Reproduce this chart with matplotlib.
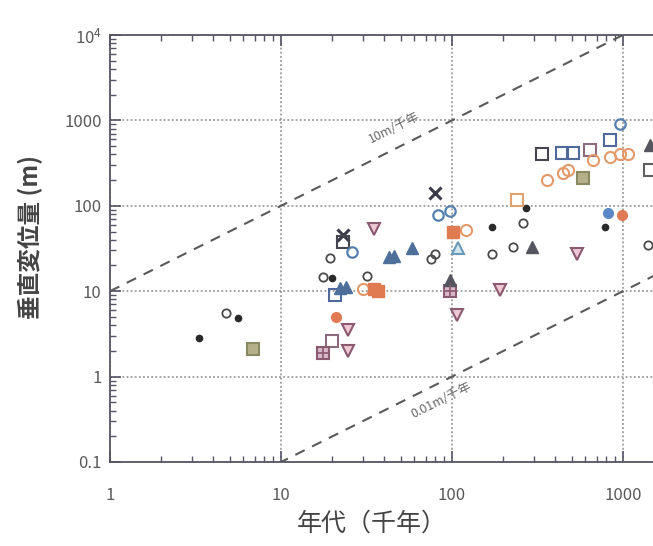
import matplotlib
matplotlib.use("Agg")
import matplotlib.pyplot as plt
import numpy as np

plt.rcParams['font.family'] = ['Noto Sans CJK JP', 'DejaVu Sans']

# x: 年代 (千年), y: 垂直変位量 (m)
black_dot_x = [3.3, 5.6, 19.8, 171, 270, 785]
black_dot_y = [2.8, 4.8, 14.2, 57, 93, 56]

grey_circle_x = [4.8, 17.6, 19.4, 32, 260, 227, 171, 1400, 75, 80]
grey_circle_y = [5.5, 14.8, 24.7, 15, 63.5, 33, 27, 35, 24, 27]

cross_x = [80, 23]
cross_y = [143, 46]

dark_square_x = [336, 23]
dark_square_y = [400, 38]

blue_square_x = [440, 510, 840, 20.7]
blue_square_y = [420, 420, 596, 9.1]

mauve_square_x = [641, 20]
mauve_square_y = [456, 2.6]

blue_circle_x = [83, 98, 960, 26]
blue_circle_y = [79, 88, 918, 29]

orange_circle_x = [121, 360, 446, 477, 668, 840, 960, 1070, 30]
orange_circle_y = [52, 203, 245, 265, 347, 370, 400, 400, 10.7]

orange_fsquare_x = [101, 35, 37]
orange_fsquare_y = [50, 10.6, 10.0]

orange_osquare_x = [240]
orange_osquare_y = [118]

olive_square_x = [6.9, 584]
olive_square_y = [2.1, 214]

plus_square_x = [17.6, 98]
plus_square_y = [1.9, 10]

down_tri_x = [35, 107, 24.5, 24.6, 191, 538]
down_tri_y = [53, 5.3, 3.55, 2.0, 10.4, 27]

blue_tri_x = [43, 46, 58, 24, 22]
blue_tri_y = [25, 25.5, 32, 11.3, 10.8]

grey_tri_x = [294, 98, 1440]
grey_tri_y = [33, 13.6, 521]

light_tri_x = [108]
light_tri_y = [32]

coral_dot_x = [21, 986]
coral_dot_y = [5.0, 79]

steel_dot_x = [817]
steel_dot_y = [83]

edge_square_x = [1440]
edge_square_y = [265]

rates = [10, 0.01]
rate_labels = ['10m/千年', '0.01m/千年']
rate_label_x = [46, 87]
rate_label_y = [830, 0.52]

fig = plt.figure(figsize=(6.53, 5.46), dpi=100)
ax = fig.add_axes([110 / 653, 1 - 462 / 546, 684 / 653, 427 / 546])
ax.set_xscale('log')
ax.set_yscale('log')
ax.set_xlim(1, 1e4)
ax.set_ylim(0.1, 1e4)

ax.grid(True, which='major', color='#8a8a8a', ls=(0, (1.2, 1.5)), lw=1.1)

# rate lines
xs = np.array([1, 1e4])
for r in rates:
    ax.plot(xs, r * xs, ls=(0, (5, 4)), color='#5a5a5a', lw=1.5, zorder=2)
for lab, lx, ly in zip(rate_labels, rate_label_x, rate_label_y):
    ax.text(lx, ly, lab, rotation=26.6, rotation_mode='anchor', ha='center', va='center',
            fontsize=9, color='#666666')

ms = 8.5
ax.plot(black_dot_x, black_dot_y, 'o', ms=4.5, color='#2a2a2a', zorder=3)
ax.plot(grey_circle_x, grey_circle_y, 'o', ms=6, mfc='none', mec='#4a4a4a', mew=1.3, zorder=3)
ax.plot(cross_x, cross_y, 'x', ms=8, color='#3a3a48', mew=2.2, zorder=3)
ax.plot(dark_square_x, dark_square_y, 's', ms=ms, mfc='none', mec='#454550', mew=1.5, zorder=3)
ax.plot(blue_square_x, blue_square_y, 's', ms=ms, mfc='none', mec='#4f6a9a', mew=1.5, zorder=3)
ax.plot(mauve_square_x, mauve_square_y, 's', ms=ms, mfc='none', mec='#8c6a80', mew=1.5, zorder=3)
ax.plot(blue_circle_x, blue_circle_y, 'o', ms=7.5, mfc='none', mec='#5580b0', mew=1.6, zorder=3)
ax.plot(orange_circle_x, orange_circle_y, 'o', ms=8, mfc='none', mec='#e39a6a', mew=1.5, zorder=3)
ax.plot(orange_fsquare_x, orange_fsquare_y, 's', ms=ms, color='#e07a50', zorder=3)
ax.plot(orange_osquare_x, orange_osquare_y, 's', ms=ms, mfc='none', mec='#e0a070', mew=1.5, zorder=3)
ax.plot(olive_square_x, olive_square_y, 's', ms=ms, mfc='#b5b08a', mec='#8a8a60', mew=1.5, zorder=3)
ax.plot(plus_square_x, plus_square_y, 's', ms=ms, mfc='#d8b8c8', mec='#8a5a70', mew=1.5, zorder=3)
ax.plot(plus_square_x, plus_square_y, '+', ms=ms, color='#8a5a70', mew=1.2, zorder=4)
ax.plot(down_tri_x, down_tri_y, 'v', ms=ms, mfc='#eec8d4', mec='#8a5a70', mew=1.5, zorder=3)
ax.plot(blue_tri_x, blue_tri_y, '^', ms=ms, color='#4d6f9a', zorder=3)
ax.plot(grey_tri_x, grey_tri_y, '^', ms=ms, color='#555560', zorder=3)
ax.plot(light_tri_x, light_tri_y, '^', ms=ms, mfc='#d0e6f0', mec='#6a9ab8', mew=1.5, zorder=3)
ax.plot(coral_dot_x, coral_dot_y, 'o', ms=7, color='#e07a55', zorder=3)
ax.plot(steel_dot_x, steel_dot_y, 'o', ms=7, color='#5a88c8', zorder=3)
ax.plot(edge_square_x, edge_square_y, 's', ms=ms, mfc='none', mec='#606060', mew=1.5, zorder=3)

for s in ax.spines.values():
    s.set_color('#555566')
    s.set_linewidth(1.3)

ax.set_yticks([0.1, 1, 10, 100, 1000, 1e4])
ax.set_yticklabels(['0.1', '1', '10', '100', '1000', r'$\mathregular{10^4}$'])
ax.set_xticks([1, 10, 100, 1000, 1e4])
ax.set_xticklabels(['1', '10', '100', '1000', ''])
ax.tick_params(which='major', direction='in', length=8, width=1.2, color='#555566',
               labelsize=12, labelcolor='#5a5a5a')
ax.tick_params(which='minor', direction='in', length=4, width=1, color='#555566')
ax.tick_params(axis='x', which='major', pad=18)
ax.tick_params(axis='y', which='major', pad=6)
ax.tick_params(top=True, right=True, which='both')

fig.text(30 / 653, 1 - 237 / 546, '垂直変位量 (m)', rotation=90, ha='center', va='center',
         fontsize=17, color='#444444', fontweight='bold')
fig.text(372 / 653, 1 - 524 / 546, '年代（千年）', ha='center', va='center',
         fontsize=18, color='#444444')

fig.savefig('out.png', dpi=100)
